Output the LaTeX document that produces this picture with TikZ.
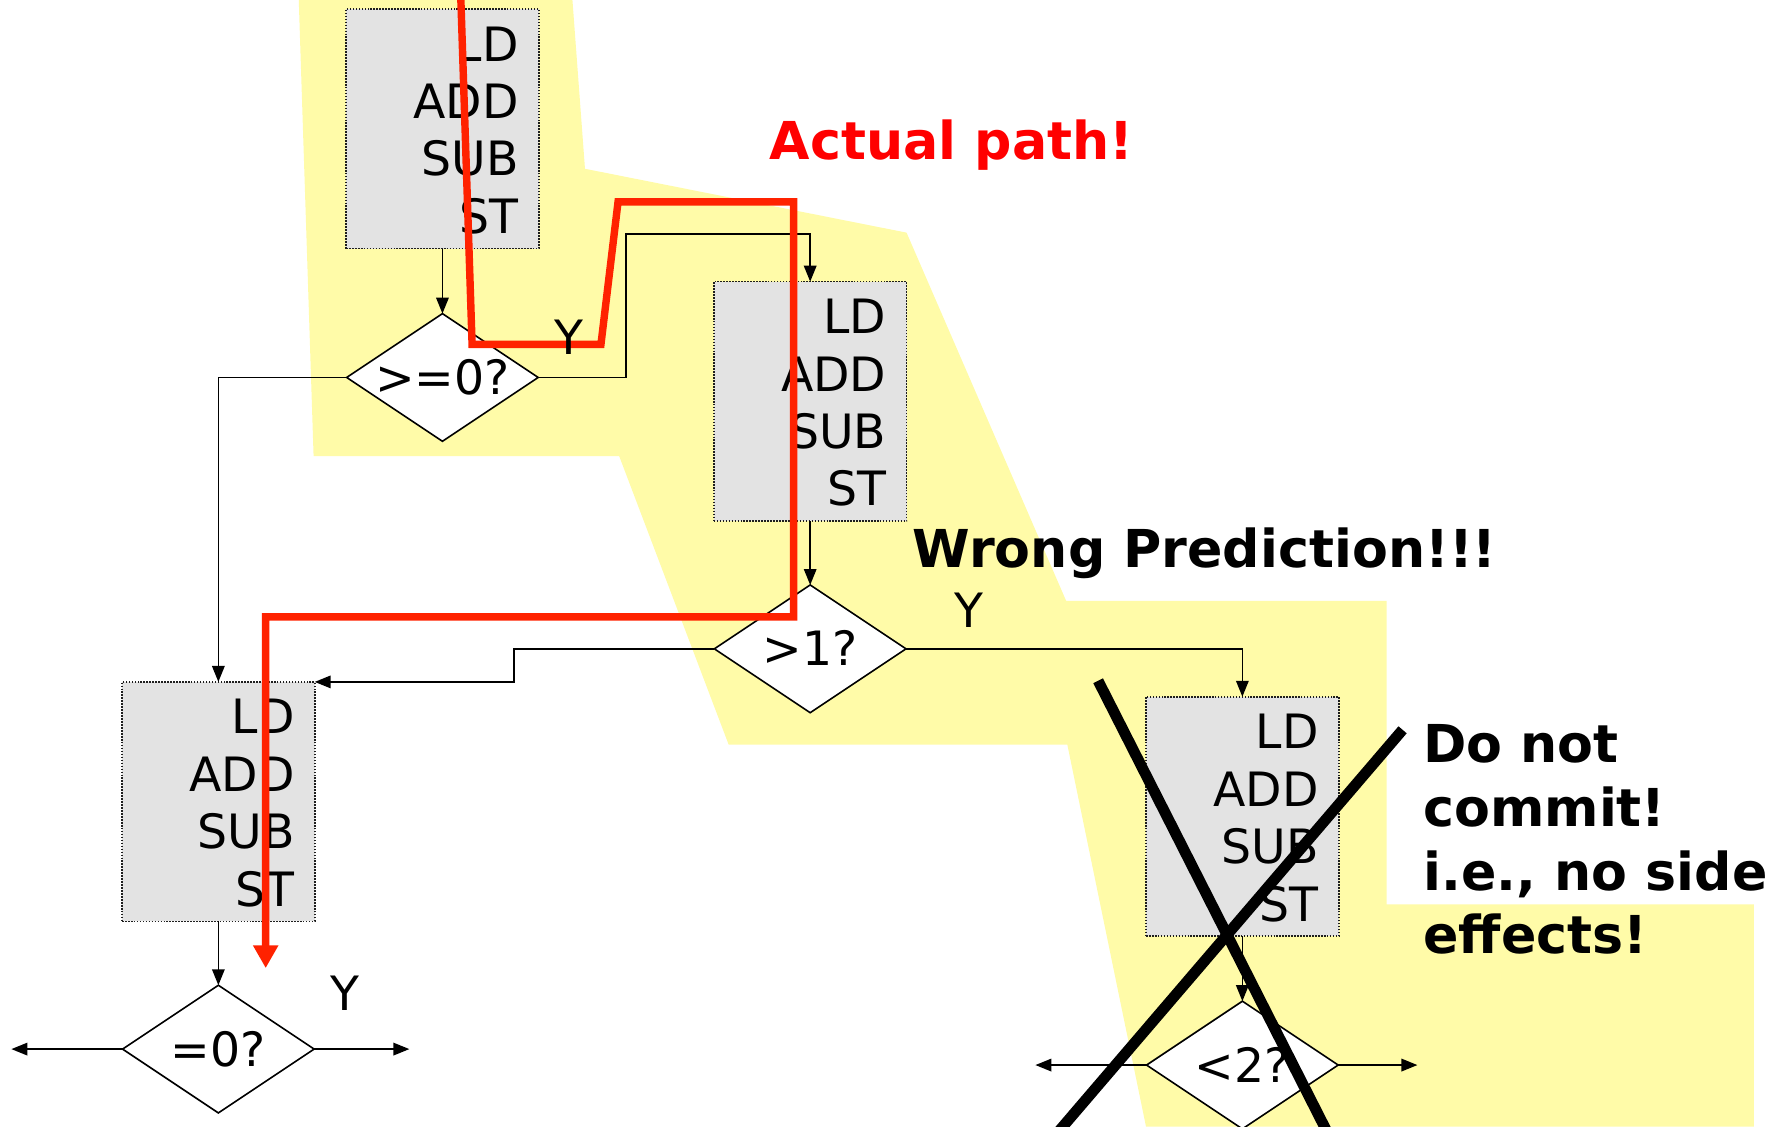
\documentclass[tikz,border=0pt]{standalone}
\usepackage{fontspec}
\setmainfont{DejaVu Sans}
\usetikzlibrary{shapes.geometric,arrows.meta,calc}
\definecolor{hl}{RGB}{255,251,168}
\definecolor{boxgray}{RGB}{227,227,227}
\definecolor{pathred}{RGB}{255,34,0}
\begin{document}
\begin{tikzpicture}[x=1pt,y=-1pt,
  instrbox/.style={draw={rgb,255:red,30;green,30;blue,30}, fill=boxgray, line width=1.4pt, dash pattern=on 1.4pt off 1.2pt, minimum width=169pt, minimum height=210pt, inner sep=0pt, outer sep=0pt},
  dia/.style={diamond, draw, fill=white, line width=1.4pt, minimum width=168pt, minimum height=112pt, inner sep=0pt, outer sep=0pt},
  instr/.style={anchor=base east, inner sep=0pt, font=\fontsize{41.5}{50}\selectfont},
  dtext/.style={inner sep=0pt, text height=30pt, text depth=0pt, font=\fontsize{41.5}{50}\selectfont},
  ylab/.style={anchor=base, inner sep=0pt, font=\fontsize{41.5}{50}\selectfont},
  conn/.style={line width=1.4pt, -{Triangle[length=14pt,width=11pt]}},
  note/.style={anchor=base west, inner sep=0pt, font=\fontsize{45.8}{54}\selectfont\bfseries},
]
\useasboundingbox (0,0) rectangle (1568,988);
\clip (0,0) rectangle (1568,988);
% highlighted region
\fill[hl] (262,0) -- (502,0) -- (513,148) -- (795,204) -- (935,527) -- (1216,527) -- (1216,793) -- (1538,793) -- (1538,988) -- (1005,988) -- (936,653) -- (639,653) -- (543,400) -- (275,400) -- cycle;
% blocks
\node[instrbox] (b1) at (388,113) {};
\node[instrbox] (b2) at (710.5,352) {};
\node[instrbox] (b3) at (191.5,703) {};
\node[instrbox] (b4) at (1089.5,716) {};
\foreach \b in {b1,b2,b3,b4}{
  \foreach \t [count=\i from 0] in {LD,ADD,SUB,ST}{
    \node[instr] (\b-\i) at ($(\b.north east)+(-17.5,45.5+50.4*\i)$) {\t};
  }
}
% decisions
\node[dia] (d1) at (388,331) {};
\node[dtext] (d1t) at (d1.center) {>=0?};
\node[dia] (d2) at (710.5,569) {};
\node[dtext] (d2t) at (d2.center) {>1?};
\node[dia] (d3) at (191.5,920) {};
\node[dtext] (d3t) at (d3.center) {=0?};
\node[dia] (d4) at (1089.5,934) {};
\node[dtext] (d4t) at (d4.center) {<2?};
% connectors
\coordinate (j1) at (549,205);
\coordinate (j2) at (451,598);
\coordinate (e3l) at (10,920);
\coordinate (e3r) at (359,920);
\coordinate (e4l) at (908,934);
\coordinate (e4r) at (1243,934);
\draw[conn] (b1.south) -- (d1.north);
\draw[conn] (d1.east) -| (j1) -| (b2.north);
\draw[conn] (d1.west) -| (b3.north);
\draw[conn] (b2.south) -- (d2.north);
\draw[conn] (d2.west) -| (j2) -- (b3.north east);
\draw[conn] (d2.east) -| (b4.north);
\draw[conn] (b3.south) -- (d3.north);
\draw[conn] (b4.south) -- (d4.north);
\draw[conn] (d3.west) -- (e3l);
\draw[conn] (d3.east) -- (e3r);
\draw[conn] (d4.west) -- (e4l);
\draw[conn] (d4.east) -- (e4r);
% actual path
\coordinate (rp0) at (404,-5);
\coordinate (rp1) at (414,302);
\coordinate (rp2) at (527,302);
\coordinate (rp3) at (542,177);
\coordinate (rp4) at (696,177);
\coordinate (rp5) at (696,541);
\coordinate (rp6) at (233,541);
\coordinate (rp7) at (233,849);
\draw[pathred, line width=6.5pt, line join=miter, -{Triangle[length=20pt,width=21pt]}] (rp0) -- (rp1) -- (rp2) -- (rp3) -- (rp4) -- (rp5) -- (rp6) -- (rp7);
% labels
\node[ylab] (y1) at (499,311) {Y};
\node[ylab] (y2) at (850,550) {Y};
\node[ylab] (y3) at (302.5,886) {Y};
\node[note, text=red] (actual) at (675,140) {Actual path!};
\node[note] (wrong) at (800,498) {Wrong Prediction!!!};
\node[note] (dn1) at (1248,669) {Do not};
\node[note] (dn2) at (1248,725) {commit!};
\node[note] (dn3) at (1248,780.5) {i.e., no side};
\node[note] (dn4) at (1248,836) {effects!};
% cross
\coordinate (x1a) at (963,597);
\coordinate (x1b) at (1165,995);
\coordinate (x2a) at (1230,640);
\coordinate (x2b) at (926,995);
\draw[line width=9.5pt] (x1a) -- (x1b);
\draw[line width=9.5pt] (x2a) -- (x2b);
\end{tikzpicture}
\end{document}
